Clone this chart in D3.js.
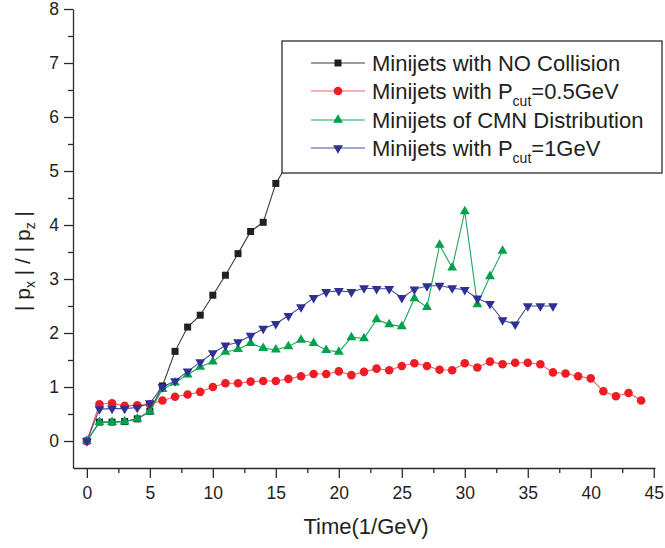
<!DOCTYPE html>
<html>
<head>
<meta charset="utf-8">
<script src="https://cdn.jsdelivr.net/npm/d3@7"></script>
<style>
  html, body { margin: 0; padding: 0; background: #fff; }
  svg { display: block; font-family: "Liberation Sans", Arial, sans-serif; }
</style>
</head>
<body>
<svg id="chart" width="665" height="548"></svg>
<script>
// ---- Data ----
const timeNoColl = [0,1,2,3,4,5,6,7,8,9,10,11,12,13,14,15,16];
const noCollision = [0,0.35,0.35,0.36,0.41,0.55,1.02,1.66,2.11,2.33,2.70,3.07,3.47,3.88,4.05,4.77,5.16];

const timeP05 = [0,1,2,3,4,5,6,7,8,9,10,11,12,13,14,15,16,17,18,19,20,21,22,23,24,25,26,27,28,29,30,31,32,33,34,35,36,37,38,39,40,41,42,43,44];
const pcut05 = [0,0.68,0.70,0.65,0.66,0.68,0.75,0.82,0.86,0.91,1.00,1.07,1.07,1.10,1.11,1.11,1.15,1.20,1.24,1.24,1.29,1.22,1.28,1.34,1.31,1.39,1.44,1.39,1.32,1.31,1.44,1.36,1.47,1.42,1.45,1.45,1.42,1.27,1.25,1.20,1.16,0.92,0.83,0.89,0.75];

const timeCMN = [0,1,2,3,4,5,6,7,8,9,10,11,12,13,14,15,16,17,18,19,20,21,22,23,24,25,26,27,28,29,30,31,32,33];
const cmn = [0,0.35,0.35,0.36,0.41,0.55,0.96,1.08,1.23,1.37,1.47,1.65,1.70,1.81,1.72,1.69,1.75,1.87,1.81,1.68,1.65,1.92,1.90,2.25,2.16,2.12,2.64,2.48,3.63,3.21,4.25,2.53,3.05,3.52];

const timeP1 = [0,1,2,3,4,5,6,7,8,9,10,11,12,13,14,15,16,17,18,19,20,21,22,23,24,25,26,27,28,29,30,31,32,33,34,35,36,37];
const pcut1 = [0,0.59,0.60,0.60,0.62,0.70,1.00,1.11,1.29,1.46,1.63,1.77,1.83,1.95,2.08,2.17,2.32,2.48,2.65,2.76,2.78,2.76,2.83,2.82,2.82,2.65,2.81,2.87,2.88,2.83,2.80,2.64,2.54,2.24,2.16,2.50,2.50,2.50];

const xMajorTicks = [0,5,10,15,20,25,30,35,40,45];
const xMinorTicks = [2.5,7.5,12.5,17.5,22.5,27.5,32.5,37.5,42.5];
const yMajorTicks = [0,1,2,3,4,5,6,7,8];
const yMinorTicks = [0.5,1.5,2.5,3.5,4.5,5.5,6.5,7.5];

const seriesNames = ["Minijets with NO Collision", "Minijets with P|cut|=0.5GeV", "Minijets of CMN Distribution", "Minijets with P|cut|=1GeV"];

// ---- Styles ----
const series = [
  {x: timeNoColl, y: noCollision, color: "#231f20", line: "#3a3a3a", shape: "square"},
  {x: timeP05, y: pcut05, color: "#ee1c25", line: "#f0606a", shape: "circle"},
  {x: timeCMN, y: cmn, color: "#00a14b", line: "#1aa85a", shape: "up"},
  {x: timeP1, y: pcut1, color: "#2e3192", line: "#4a4d9e", shape: "down"}
];

const svg = d3.select("#chart");
const x = d3.scaleLinear().domain([-1.1, 45.1]).range([73, 655]);
const y = d3.scaleLinear().domain([-0.5, 8]).range([468, 9]);

const axisColor = "#2b2b2b";
const textColor = "#231f20";

// Axes
const gx = svg.append("g").attr("transform", `translate(0,${y(-0.5)})`);
gx.call(d3.axisBottom(x).tickValues(xMajorTicks).tickSize(10).tickSizeOuter(0).tickPadding(4).tickFormat(d3.format("d")));
const gxMinor = svg.append("g").attr("transform", `translate(0,${y(-0.5)})`);
gxMinor.call(d3.axisBottom(x).tickValues(xMinorTicks).tickSize(5).tickSizeOuter(0).tickFormat(""));
gxMinor.select(".domain").remove();

const gy = svg.append("g").attr("transform", `translate(${x(-1.1)},0)`);
gy.call(d3.axisLeft(y).tickValues(yMajorTicks).tickSize(9).tickSizeOuter(0).tickPadding(5).tickFormat(d3.format("d")));
const gyMinor = svg.append("g").attr("transform", `translate(${x(-1.1)},0)`);
gyMinor.call(d3.axisLeft(y).tickValues(yMinorTicks).tickSize(5).tickSizeOuter(0).tickFormat(""));
gyMinor.select(".domain").remove();

[gx, gxMinor, gy, gyMinor].forEach(g => {
  g.selectAll("path, line").attr("stroke", axisColor).attr("stroke-width", 1.3);
  g.selectAll("text").attr("fill", textColor).style("font-size", "17.5px").style("font-family", '"Liberation Sans", Arial, sans-serif');
});
gx.selectAll(".tick text").attr("dy", null).attr("y", 31);

// Axis titles
svg.append("text")
  .attr("x", 366).attr("y", 534)
  .attr("text-anchor", "middle")
  .attr("fill", textColor)
  .style("font-size", "22px")
  .text("Time(1/GeV)");

const yl = svg.append("text")
  .attr("transform", "translate(30,261) rotate(-90)")
  .attr("text-anchor", "middle")
  .attr("fill", textColor)
  .style("font-size", "21px");
yl.append("tspan").text("| p");
yl.append("tspan").attr("dy", 5).style("font-size", "14px").text("x");
yl.append("tspan").attr("dy", -5).text(" | / | p");
yl.append("tspan").attr("dy", 5).style("font-size", "14px").text("z");
yl.append("tspan").attr("dy", -5).text(" |");

// Marker drawing
function marker(g, shape, color, cx, cy, scale) {
  scale = scale || 1;
  let sym, rot = 0, size;
  if (shape === "square") { sym = d3.symbolSquare; size = 49; }
  else if (shape === "circle") { sym = d3.symbolCircle; size = 58; }
  else if (shape === "up") { sym = d3.symbolTriangle; size = 42; }
  else { sym = d3.symbolTriangle; size = 42; rot = 180; }
  g.append("path")
    .attr("d", d3.symbol().type(sym).size(size * scale)())
    .attr("transform", `translate(${cx},${cy}) rotate(${rot})`)
    .attr("fill", color);
}

// Series
series.forEach(s => {
  const g = svg.append("g");
  const pts = s.x.map((t, i) => [t, s.y[i]]);
  g.append("path")
    .datum(pts)
    .attr("fill", "none")
    .attr("stroke", s.line)
    .attr("stroke-width", 1.1)
    .attr("d", d3.line().x(d => x(d[0])).y(d => y(d[1])));
  pts.forEach(d => marker(g, s.shape, s.color, x(d[0]), y(d[1])));
});

// Legend
const lg = svg.append("g");
lg.append("rect")
  .attr("x", 282).attr("y", 41).attr("width", 380).attr("height", 132)
  .attr("fill", "#fff").attr("stroke", axisColor).attr("stroke-width", 1.3);
const rowY = [63, 91, 120, 148];
series.forEach((s, i) => {
  const cy = rowY[i];
  lg.append("line").attr("x1", 311).attr("x2", 365).attr("y1", cy).attr("y2", cy)
    .attr("stroke", s.line).attr("stroke-width", 1.1);
  marker(lg, s.shape, s.color, 338, cy);
  const t = lg.append("text").attr("x", 372).attr("y", cy + 8)
    .attr("fill", textColor).style("font-size", "22px");
  const parts = seriesNames[i].split("|");
  if (parts.length === 1) {
    t.text(parts[0]);
  } else {
    t.append("tspan").text(parts[0]);
    t.append("tspan").attr("dy", 7).style("font-size", "14px").text(parts[1]);
    t.append("tspan").attr("dy", -7).text(parts[2]);
  }
});
</script>
</body>
</html>
